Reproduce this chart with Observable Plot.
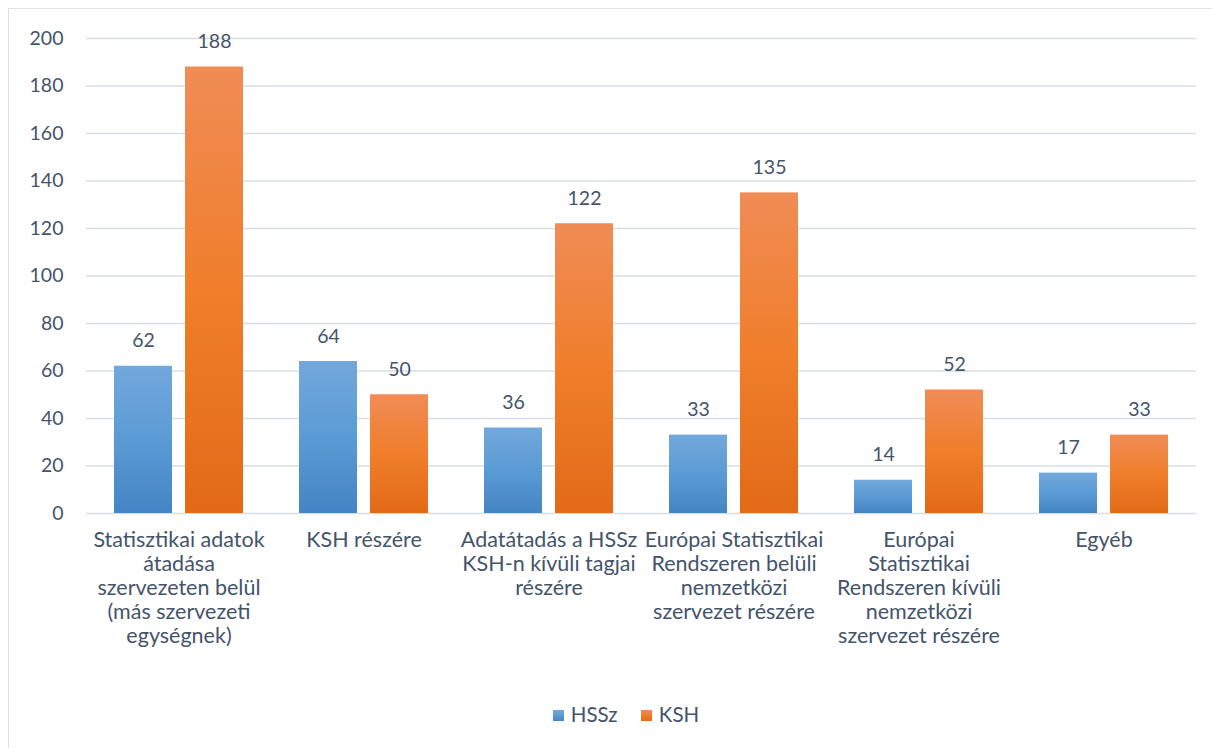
<!DOCTYPE html>
<html>
<head>
<meta charset="utf-8">
<script src="https://cdn.jsdelivr.net/npm/d3@7"></script>
<script src="https://cdn.jsdelivr.net/npm/@observablehq/plot@0.6"></script>
<style>
  html, body { margin: 0; padding: 0; background: #fff; overflow: hidden; }
  #wrap { position: relative; width: 1212px; height: 748px; font-family: Lato, "Open Sans", sans-serif; }
  #frame { position: absolute; left: 8px; top: 8px; width: 1220px; height: 760px; border-left: 1.5px solid #dfe3e8; border-top: 1.5px solid #dfe3e8; box-sizing: border-box; }
  #chart { position: absolute; left: 0; top: 0; }
  #legend { position: absolute; left: 20px; top: 702px; width: 1212px; text-align: center; font-size: 20.5px; color: #44546A; }
  .sw { display: inline-block; width: 11px; height: 11px; margin-right: 7px; vertical-align: 1px; }
  .item { display: inline-block; margin: 0 9px; }
</style>
</head>
<body>
<div id="wrap">
  <div id="frame"></div>
  <div id="chart"></div>
  <div id="legend">
    <span class="item"><span class="sw" style="background: linear-gradient(#70a6db, #5b9bd5, #4585c5);"></span>HSSz</span>
    <span class="item"><span class="sw" style="background: linear-gradient(#f08a52, #ef7d2c, #e36b1a);"></span>KSH</span>
  </div>
</div>
<script>
const categories = [
  "Statisztikai adatok\nátadása\nszervezeten belül\n(más szervezeti\negységnek)",
  "KSH részére",
  "Adatátadás a HSSz\nKSH-n kívüli tagjai\nrészére",
  "Európai Statisztikai\nRendszeren belüli\nnemzetközi\nszervezet részére",
  "Európai\nStatisztikai\nRendszeren kívüli\nnemzetközi\nszervezet részére",
  "Egyéb"
];
const seriesNames = ["HSSz", "KSH"];
const hsszValues = [62, 64, 36, 33, 14, 17];
const kshValues = [188, 50, 122, 135, 52, 33];
const yTicks = [0, 20, 40, 60, 80, 100, 120, 140, 160, 180, 200];

const data = [];
categories.forEach((c, i) => {
  data.push({category: c, series: seriesNames[0], value: hsszValues[i]});
  data.push({category: c, series: seriesNames[1], value: kshValues[i]});
});

const textColor = "#44546A";
const numSize = 19.5;
const labelSize = 21.5;

const chart = Plot.plot({
  width: 1212,
  height: 690,
  marginLeft: 85,
  marginRight: 16,
  marginTop: 38,
  marginBottom: 177,
  style: {fontFamily: "Lato, 'Open Sans', sans-serif", fontSize: numSize + "px", color: textColor, background: "transparent", overflow: "visible"},
  fx: {domain: categories, padding: 0},
  x: {domain: seriesNames, paddingInner: 0.183, paddingOuter: 0.394, axis: null},
  y: {domain: [0, 200]},
  marks: [
    Plot.gridY(yTicks, {stroke: "#d9dde3", strokeOpacity: 1, strokeWidth: 1.5}),
    Plot.axisY(yTicks, {tickSize: 0, tickPadding: 23, fontSize: numSize, fill: textColor, label: null}),
    Plot.axisFx({anchor: "bottom", tickSize: 0, tickPadding: 16, fontSize: labelSize, fill: textColor, label: null, lineHeight: 24 / labelSize, lineAnchor: "top"}),
    Plot.barY(data.filter(d => d.series === "HSSz"), {fx: "category", x: "series", y: "value", fill: "url(#gradBlue)"}),
    Plot.barY(data.filter(d => d.series === "KSH"), {fx: "category", x: "series", y: "value", fill: "url(#gradOrange)"}),
    Plot.text(data, {fx: "category", x: "series", y: "value", text: d => String(d.value), dy: -19, lineAnchor: "bottom", fill: textColor, fontSize: numSize})
  ]
});

const ns = "http://www.w3.org/2000/svg";
const defs = document.createElementNS(ns, "defs");
function grad(id, stops) {
  const g = document.createElementNS(ns, "linearGradient");
  g.setAttribute("id", id);
  g.setAttribute("x1", "0"); g.setAttribute("y1", "0");
  g.setAttribute("x2", "0"); g.setAttribute("y2", "1");
  stops.forEach(([o, c]) => {
    const s = document.createElementNS(ns, "stop");
    s.setAttribute("offset", o);
    s.setAttribute("stop-color", c);
    g.appendChild(s);
  });
  defs.appendChild(g);
}
grad("gradBlue", [["0", "#72a8dc"], ["0.5", "#5b9bd5"], ["1", "#4384c4"]]);
grad("gradOrange", [["0", "#f08c55"], ["0.5", "#f07e2b"], ["1", "#e26a17"]]);
chart.insertBefore(defs, chart.firstChild);

document.getElementById("chart").appendChild(chart);
</script>
</body>
</html>
